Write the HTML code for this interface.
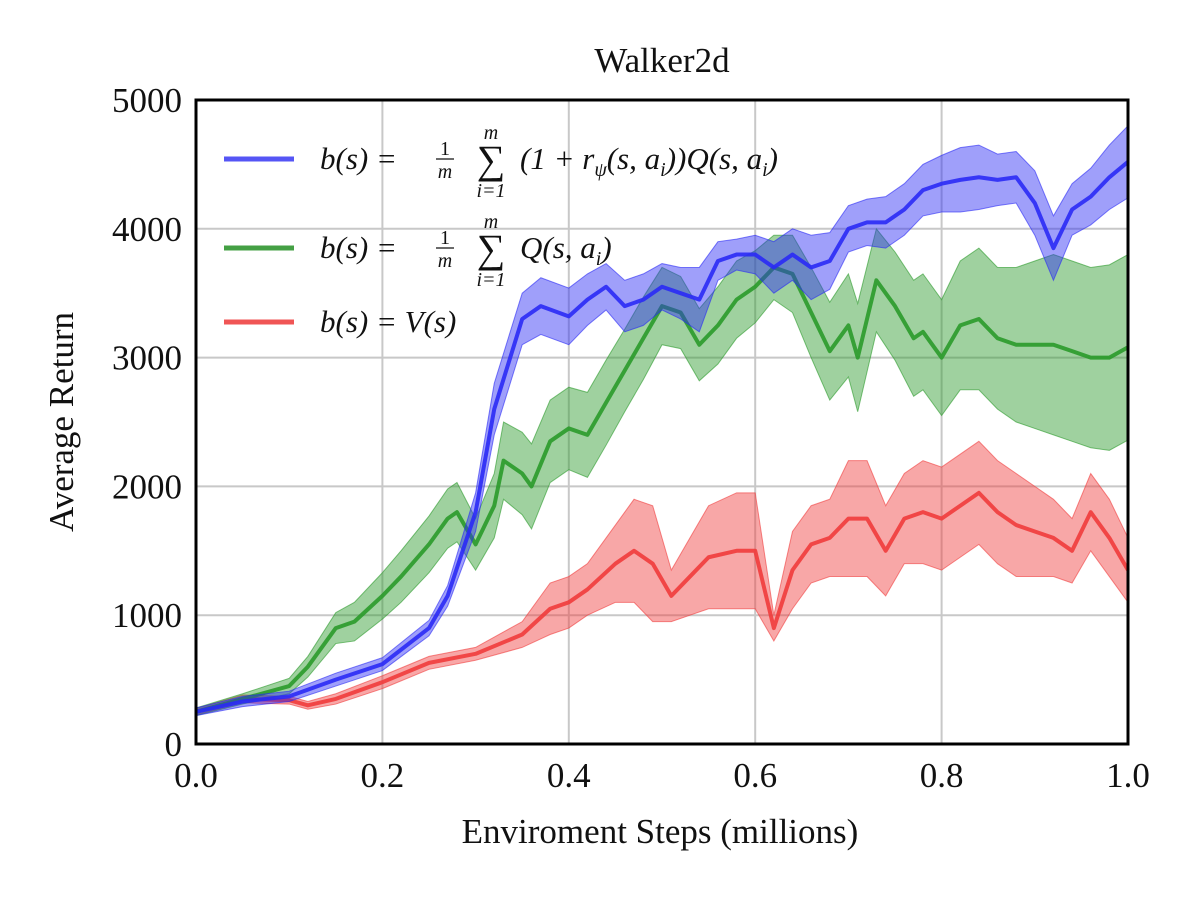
<!DOCTYPE html>
<html><head><meta charset="utf-8"><style>
body{margin:0;background:#fff;width:1200px;height:900px;overflow:hidden;font-family:"Liberation Serif",serif}
</style></head><body>
<svg id="chart" width="1200" height="900" xmlns="http://www.w3.org/2000/svg" font-family="Liberation Serif, serif"></svg>
<script>
const xTicks=[0,0.2,0.4,0.6,0.8,1.0];
const xTickLabels=["0.0","0.2","0.4","0.6","0.8","1.0"];
const yTicks=[0,1000,2000,3000,4000,5000];
const yTickLabels=["0","1000","2000","3000","4000","5000"];

const blueX=[0,0.05,0.1,0.15,0.2,0.25,0.27,0.3,0.32,0.35,0.37,0.4,0.42,0.44,0.46,0.48,0.5,0.52,0.54,0.56,0.58,0.6,0.62,0.64,0.66,0.68,0.7,0.72,0.74,0.76,0.78,0.8,0.82,0.84,0.86,0.88,0.9,0.92,0.94,0.96,0.98,1.0];
const blueMean=[250,330,370,500,620,900,1150,1800,2600,3300,3400,3320,3450,3550,3400,3450,3550,3500,3450,3750,3800,3800,3700,3800,3700,3750,4000,4050,4050,4150,4300,4350,4380,4400,4380,4400,4200,3850,4150,4250,4400,4520];
const blueHalf=[30,40,40,50,50,60,80,150,200,200,220,220,200,180,200,200,180,200,250,150,120,150,200,200,250,220,180,180,200,200,200,220,250,250,200,200,250,250,200,220,250,280];

const greenX=[0,0.05,0.1,0.12,0.15,0.17,0.2,0.22,0.25,0.27,0.28,0.3,0.32,0.33,0.35,0.36,0.38,0.4,0.42,0.44,0.46,0.48,0.5,0.52,0.54,0.56,0.58,0.6,0.62,0.64,0.66,0.68,0.7,0.71,0.73,0.75,0.77,0.78,0.8,0.82,0.84,0.86,0.88,0.9,0.92,0.94,0.96,0.98,1.0];
const greenMean=[250,350,450,600,900,950,1150,1300,1550,1750,1800,1550,1850,2200,2100,2000,2350,2450,2400,2650,2900,3150,3400,3350,3100,3250,3450,3550,3700,3650,3350,3050,3250,3000,3600,3400,3150,3200,3000,3250,3300,3150,3100,3100,3100,3050,3000,3000,3080];
const greenHalf=[30,40,60,80,120,150,180,200,220,230,230,200,250,300,320,330,320,320,330,330,320,320,300,280,280,300,300,280,250,300,350,380,400,420,400,420,450,450,450,500,550,550,600,650,700,700,700,720,720];

const redX=[0,0.05,0.1,0.12,0.15,0.2,0.25,0.3,0.35,0.38,0.4,0.42,0.45,0.47,0.49,0.51,0.53,0.55,0.58,0.6,0.62,0.64,0.66,0.68,0.7,0.72,0.74,0.76,0.78,0.8,0.82,0.84,0.86,0.88,0.9,0.92,0.94,0.96,0.98,1.0];
const redMean=[250,350,340,300,350,480,630,700,850,1050,1100,1200,1400,1500,1400,1150,1300,1450,1500,1500,900,1350,1550,1600,1750,1750,1500,1750,1800,1750,1850,1950,1800,1700,1650,1600,1500,1800,1600,1350];
const redHalf=[25,30,30,30,40,50,50,50,100,200,200,200,300,400,450,200,300,400,450,450,100,300,300,300,450,450,350,350,400,400,400,400,400,400,350,300,250,300,300,250];

const svg=document.getElementById('chart');
const NS="http://www.w3.org/2000/svg";
const L=196,R=1128,T=100,B=744;
const sx=v=>L+(R-L)*v;
const sy=v=>B-(B-T)*v/5000;
function mk(tag,attrs){const e=document.createElementNS(NS,tag);for(const k in attrs)e.setAttribute(k,attrs[k]);svg.appendChild(e);return e;}

xTicks.forEach((t,i)=>{
  const g=mk('line',{x1:sx(t),x2:sx(t),y1:T,y2:B,stroke:'#c8c8c8','stroke-width':2});
  
  
  const tx=mk('text',{x:sx(t),y:787,'text-anchor':'middle','font-size':35,fill:'#111'});
  tx.textContent=xTickLabels[i];
  
  
});
yTicks.forEach((t,i)=>{
  const g=mk('line',{x1:L,x2:R,y1:sy(t),y2:sy(t),stroke:'#c8c8c8','stroke-width':2});
  
  
  const tx=mk('text',{x:182,y:sy(t)+12,'text-anchor':'end','font-size':35,fill:'#111'});
  tx.textContent=yTickLabels[i];
  
  
});

function series(xs,mean,half,color,name){
  let up=xs.map((x,i)=>sx(x)+','+sy(mean[i]+half[i]));
  let lo=xs.map((x,i)=>sx(x)+','+sy(Math.max(0,mean[i]-half[i]))).reverse();
  const band=mk('polygon',{points:up.concat(lo).join(' '),fill:color,'fill-opacity':0.45,stroke:color,'stroke-opacity':0.6,'stroke-width':1});
  
  
  const line=mk('polyline',{points:xs.map((x,i)=>sx(x)+','+sy(mean[i])).join(' '),fill:'none',stroke:color,'stroke-width':4,'stroke-linejoin':'round','stroke-opacity':0.9});
  
  
}
series(redX,redMean,redHalf,'#f03c3c','red-series');
series(greenX,greenMean,greenHalf,'#2a9a2a','green-series');
series(blueX,blueMean,blueHalf,'#2a2af5','blue-series');

const frame=mk('rect',{x:L,y:T,width:R-L,height:B-T,fill:'none',stroke:'#000','stroke-width':3});



const title=mk('text',{x:662,y:72,'text-anchor':'middle','font-size':35,fill:'#111'});
title.textContent='Walker2d';


const xt=mk('text',{x:660,y:843,'text-anchor':'middle','font-size':35,fill:'#111'});
xt.textContent='Enviroment Steps (millions)';


const yt=mk('text',{x:0,y:0,'text-anchor':'middle','font-size':35,fill:'#111',transform:'translate(73,422) rotate(-90)'});
yt.textContent='Average Return';



const leg=[['#5555f5',159,'b(s) = ','(1 + r','ψ','(s, a','i','))Q(s, a','i',')',true],
           ['#44a044',248,'b(s) = ','Q(s, a','i',')','','','','',true],
           ['#f05555',322,'b(s) = V(s)','','','','','','','',false]];
leg.forEach((e,k)=>{
  const ln=mk('line',{x1:224,x2:294,y1:e[1],y2:e[1],stroke:e[0],'stroke-width':5});
  
  
  const y=e[1]+10;
  const t=mk('text',{x:320,y:y,'font-size':31,'font-style':'italic',fill:'#111'});
  t.textContent=e[2];
  
  
  if(e[10]){
    const f1=mk('text',{x:445,y:y-14,'font-size':20,'text-anchor':'middle',fill:'#111'});f1.textContent='1';
    
    mk('line',{x1:436,x2:454,y1:y-10,y2:y-10,stroke:'#111','stroke-width':1.2});
    const f2=mk('text',{x:445,y:y+9,'font-size':20,'text-anchor':'middle','font-style':'italic',fill:'#111'});f2.textContent='m';
    
    const sg=mk('text',{x:491,y:y+4,'font-size':40,'text-anchor':'middle',fill:'#111'});sg.textContent='∑';
    
    const sm=mk('text',{x:491,y:y-30,'font-size':20,'text-anchor':'middle','font-style':'italic',fill:'#111'});sm.textContent='m';
    
    const si=mk('text',{x:491,y:y+28,'font-size':20,'text-anchor':'middle','font-style':'italic',fill:'#111'});si.textContent='i=1';
    
    const rest=mk('text',{x:520,y:y,'font-size':31,'font-style':'italic',fill:'#111'});
    
    const parts=[[e[3],0],[e[4],1],[e[5],0],[e[6],1],[e[7],0],[e[8],1],[e[9],0]];
    let prevSub=false;
    parts.forEach(p=>{if(!p[0])return;const s=document.createElementNS(NS,'tspan');
      if(p[1]){s.setAttribute('font-size',20);s.setAttribute('dy',7);prevSub=true;}else{s.setAttribute('font-size',31);s.setAttribute('dy',prevSub?-7:0);prevSub=false;}
      s.textContent=p[0];rest.appendChild(s);});
  }
});
</script>
</body></html>
